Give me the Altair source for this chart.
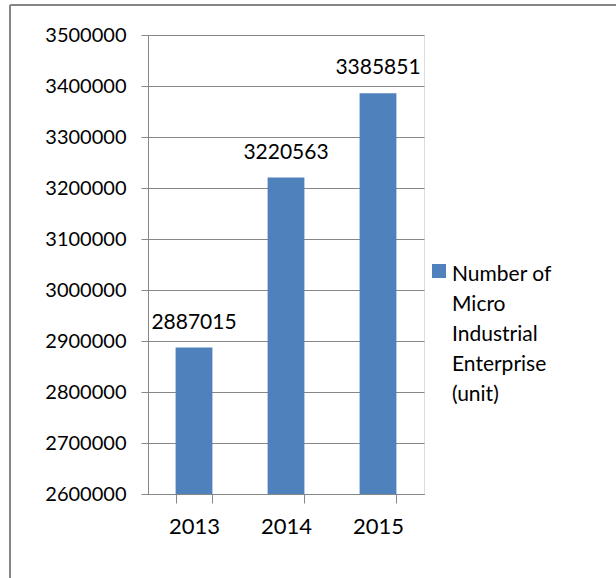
import altair as alt
import pandas as pd

years = ["2013", "2014", "2015"]
values = [2887015, 3220563, 3385851]
series_name = "Number of Micro Industrial Enterprise (unit)"
legend_lines = ["Number of", "Micro", "Industrial", "Enterprise", "(unit)"]
y_ticks = [2600000, 2700000, 2800000, 2900000, 3000000, 3100000, 3200000, 3300000, 3400000, 3500000]

df = pd.DataFrame({"year": years, "value": values, "series": [series_name] * len(years)})

FONT = "Lato"
GRID = "#868686"
BLUE = "#4F81BD"

x_enc = alt.X(
    "year:N",
    scale=alt.Scale(paddingInner=0.6, paddingOuter=0.3),
    axis=alt.Axis(title=None, labelAngle=0, tickBand="extent", domainColor=GRID,
                  tickColor=GRID, tickSize=9, labelPadding=13, labelFontSize=22,
                  labelFont=FONT, labelColor="black", grid=False),
)
y_enc = alt.Y(
    "value:Q",
    scale=alt.Scale(domain=[2600000, 3500000], nice=False, zero=False),
    axis=alt.Axis(title=None, values=y_ticks, format="d", grid=True, gridColor=GRID,
                  gridWidth=1, domainColor=GRID, tickColor=GRID, tickSize=7,
                  labelPadding=15, labelFontSize=20, labelFont=FONT, labelColor="black"),
)

bars = alt.Chart(df).mark_bar(clip=True).encode(
    x=x_enc,
    y=y_enc,
    color=alt.Color(
        "series:N",
        scale=alt.Scale(range=[BLUE]),
        legend=alt.Legend(
            title=legend_lines, titleOrient="right", orient="none",
            legendX=284, legendY=229, labelExpr="''", symbolType="square",
            symbolSize=196, symbolStrokeWidth=0, symbolOpacity=1,
            titleFontSize=21, titleFont=FONT, titleFontWeight="normal",
            titleColor="black", titleLineHeight=30, titleBaseline="top",
            titlePadding=6, titleAnchor="start", labelOffset=0,
        ),
    ),
)

labels = alt.Chart(df).mark_text(baseline="bottom", dy=-15, fontSize=21, font=FONT, color="black").encode(
    x="year:N",
    y="value:Q",
    text=alt.Text("value:Q", format="d"),
)

frame_df = pd.DataFrame({"k": [0]})
top_line = alt.Chart(frame_df).mark_rule(color=GRID, strokeWidth=2).encode(
    x=alt.value(-138), x2=alt.value(470), y=alt.value(-30)
)
left_line = alt.Chart(frame_df).mark_rule(color=GRID, strokeWidth=2).encode(
    x=alt.value(-138), y=alt.value(-30), y2=alt.value(545)
)

chart = alt.layer(bars, labels, top_line, left_line).properties(
    width=276,
    height=459,
    autosize=alt.AutoSizeParams(type="none"),
    padding={"left": 148, "top": 35, "right": 192, "bottom": 84},
).configure_view(stroke="transparent", strokeOpacity=0).configure(background="white")

chart.save("out.html", embed_options={"renderer": "svg", "actions": False})
